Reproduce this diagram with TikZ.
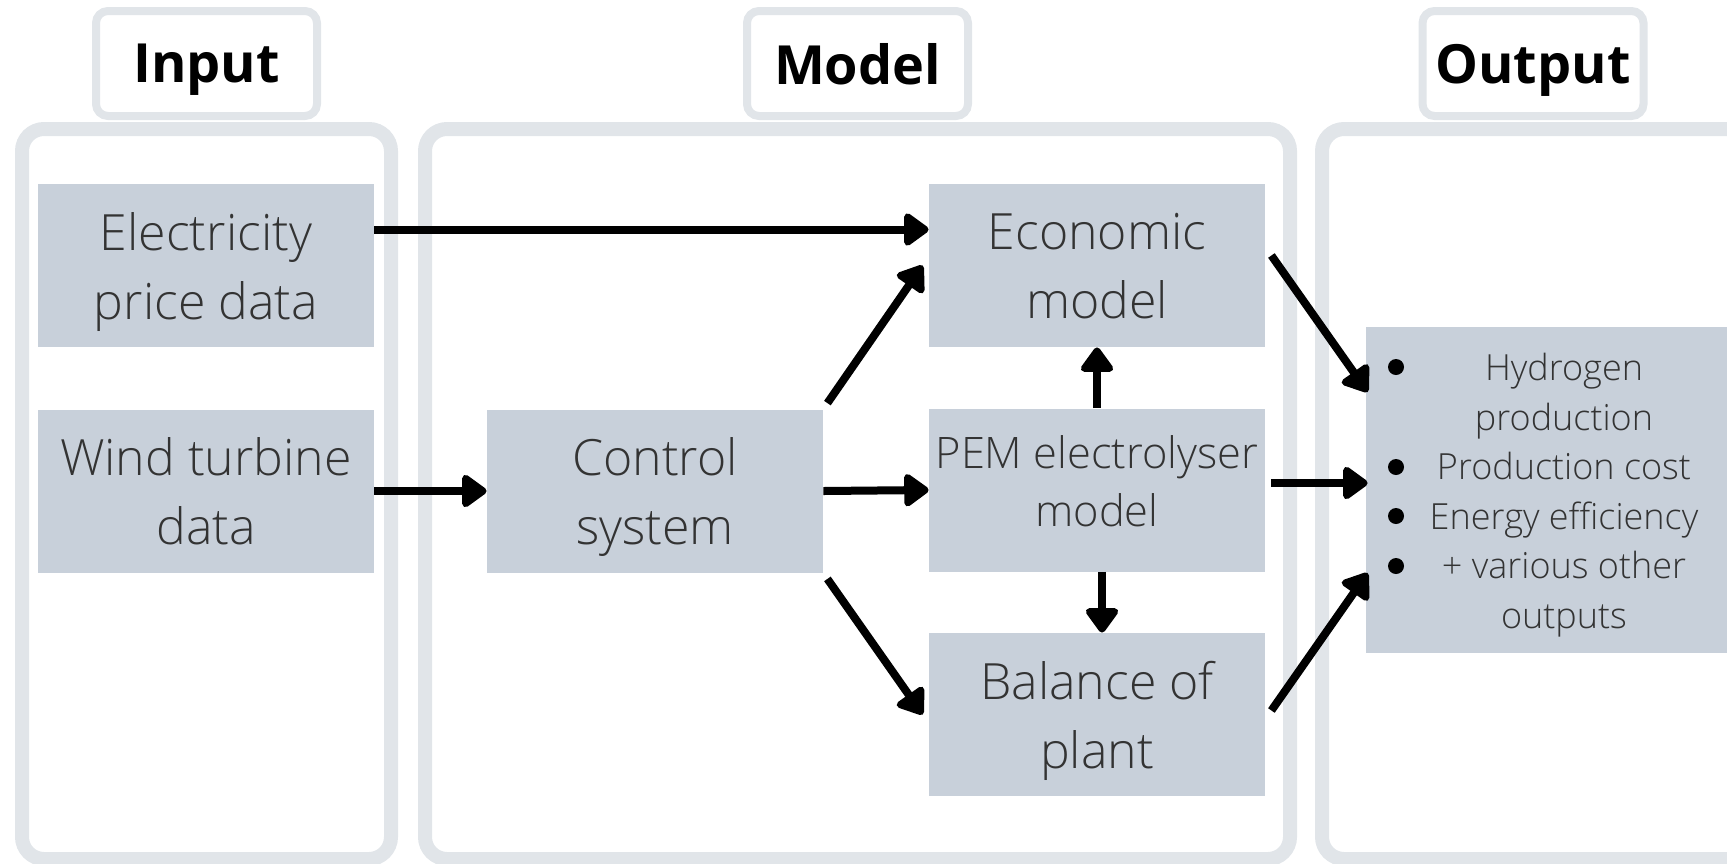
\documentclass[tikz,border=0pt]{standalone}
\usepackage{fontspec}
\setmainfont{Open Sans}
\IfFontExistsTF{Open Sans Light}{\newfontfamily\lightfont{Open Sans Light}}{\newfontfamily\lightfont{Open Sans}}
\usetikzlibrary{arrows.meta}

\definecolor{panelgray}{HTML}{E1E5E9}
\definecolor{boxgray}{HTML}{C8D0DA}
\definecolor{txtgray}{HTML}{333333}

\tikzset{
  panel/.style={draw=panelgray, line width=7pt, rounded corners=11pt},
  headbox/.style={draw=panelgray, line width=4pt, rounded corners=6pt, fill=white,
    minimum width=110.5pt, minimum height=52.5pt, text depth=0pt,
    font=\fontsize{27}{32}\selectfont\bfseries},
  block/.style={fill=boxgray, inner sep=0pt, align=center, text depth=0pt, text=txtgray,
    minimum width=168pt, minimum height=81.5pt,
    font=\lightfont\fontsize{25}{34.5}\selectfont},
  flow/.style={-{Triangle[length=13.5pt,width=18.5pt,round]}, line width=4pt},
}

\begin{document}
\begin{tikzpicture}[x=0.5pt,y=-0.5pt]

\useasboundingbox (0,0) rectangle (1727,863);

% column frames
\foreach \a/\b in {22/391, 425/1290, 1322/1780}
    \draw[panel] (\a,129) rectangle (\b,859);

\node[headbox] (inhead)  at (206.5,63.5)  {Input};
\node[headbox] (modhead) at (857.5,63.5)  {Model};
\node[headbox] (outhead) at (1533,63.5)   {Output};

% blocks
\node[block] (elec) at (206,265.5)  {Electricity\\price data};
\node[block] (wind) at (206,491)    {Wind turbine\\data};
\node[block] (ctrl) at (655,491)    {Control\\system};
\node[block] (econ) at (1097,265.5) {Economic\\model};
\node[block, text depth=9pt, font=\lightfont\fontsize{21.7}{29}\selectfont]
    (pem) at (1097,490) {PEM electrolyser\\model};
\node[block] (bop)  at (1097,714.5) {Balance of\\plant};

\node[fill=boxgray, minimum width=197pt, minimum height=163pt] (out) at (1563,490) {};
\node[align=center, inner sep=0pt, text depth=0pt, text=txtgray,
    font=\lightfont\fontsize{18}{24.75}\selectfont] (outlist) at (1564,491)
    {Hydrogen\\production\\Production cost\\Energy efficiency\\+ various other\\outputs};
\foreach \y in {367,467,516,566}
    \fill (1396,\y) circle (4pt);

% arrows
\draw[flow] ([yshift=18pt]elec.east) -- ([yshift=18pt]econ.west);
\draw[flow] (wind.east) -- (ctrl.west);
\draw[flow] (ctrl.east) -- (pem.west);
\draw[flow] ([shift={(2pt,3pt)}]ctrl.north east) -- ([xshift=-3pt]econ.west);
\draw[flow] ([shift={(2pt,-3pt)}]ctrl.south east) -- ([xshift=-3pt]bop.west);
\draw[flow] (pem.north) -- (econ.south);
\draw[flow] ([xshift=2.5pt]pem.south) -- ([xshift=2.5pt]bop.north);
\draw[flow] ([shift={(3pt,5pt)}]econ.east) -- ([shift={(1pt,49pt)}]out.west);
\draw[flow] ([shift={(3pt,3.5pt)}]pem.east) -- ([shift={(1pt,3.5pt)}]out.west);
\draw[flow] ([shift={(3pt,2pt)}]bop.east) -- ([shift={(1pt,-41.5pt)}]out.west);

\end{tikzpicture}
\end{document}
